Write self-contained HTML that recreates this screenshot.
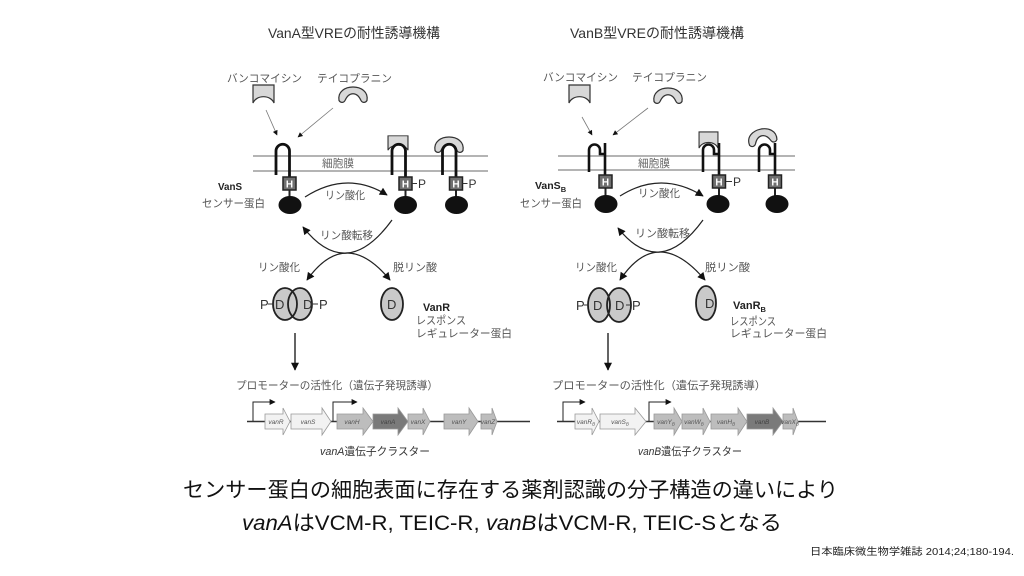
<!DOCTYPE html>
<html><head><meta charset="utf-8"><style>
html,body{margin:0;padding:0;background:#fff;}
svg{display:block;}
text{font-family:"Liberation Sans","Noto Sans CJK JP",sans-serif;}
.lb{fill:#555;font-size:11px;}
.bd{fill:#222;font-weight:bold;}
.g{font-family:"Liberation Serif","Noto Serif CJK SC",serif;font-style:italic;font-size:6.5px;fill:#555;}
</style></head><body>
<svg width="1024" height="576" viewBox="0 0 1024 576" xmlns="http://www.w3.org/2000/svg">
<defs>
<marker id="ah" viewBox="0 0 10 10" refX="9" refY="5" markerWidth="9" markerHeight="8" markerUnits="userSpaceOnUse" orient="auto-start-reverse"><path d="M0,0 L10,5 L0,10 Z" fill="#111"/></marker>
<marker id="as" viewBox="0 0 10 10" refX="9" refY="5" markerWidth="6" markerHeight="5" markerUnits="userSpaceOnUse" orient="auto"><path d="M0,0 L10,5 L0,10 Z" fill="#111"/></marker>
<marker id="ap" viewBox="0 0 10 10" refX="9" refY="5" markerWidth="8" markerHeight="6" markerUnits="userSpaceOnUse" orient="auto"><path d="M0,0 L10,5 L0,10 Z" fill="#111"/></marker>
<path id="vanc" d="M-10.5,-9 H10.5 V9 A11,9 0 0 0 -10.5,9 Z" fill="#d8d8d8" stroke="#333" stroke-width="1.2"/>
<path id="teic" d="M-14,6 C-17,-12 17,-12 14,6 C12,9 9,8 8,6 C4,-3 -4,-3 -8,6 C-9,8 -12,9 -14,6 Z" fill="#d8d8d8" stroke="#333" stroke-width="1.2"/>
</defs>
<rect width="1024" height="576" fill="#fff"/>

<!-- ================= LEFT (VanA) ================= -->
<text x="268" y="38" font-size="14" fill="#333" textLength="172" lengthAdjust="spacingAndGlyphs">VanA型VREの耐性誘導機構</text>
<text class="lb" x="227" y="82" textLength="75" lengthAdjust="spacingAndGlyphs">バンコマイシン</text>
<text class="lb" x="317" y="82" textLength="75" lengthAdjust="spacingAndGlyphs">テイコプラニン</text>
<use href="#vanc" transform="translate(263.5,94)"/>
<use href="#teic" transform="translate(353,94.5)"/>
<path d="M266,110 L277,135" stroke="#777" stroke-width="0.8" marker-end="url(#as)"/>
<path d="M333,108 L298,137" stroke="#777" stroke-width="0.8" marker-end="url(#as)"/>

<line x1="253" y1="156" x2="488" y2="156" stroke="#888" stroke-width="1.2"/>
<line x1="253" y1="171" x2="488" y2="171" stroke="#888" stroke-width="1.2"/>
<text x="322" y="167" font-size="11" fill="#666" textLength="32" lengthAdjust="spacingAndGlyphs">細胞膜</text>

<use href="#vanc" transform="translate(398,143) scale(0.95,0.8)"/>
<use href="#teic" transform="translate(449,144.5)"/>
<g fill="none" stroke="#111" stroke-width="2.8">
<path d="M276,175 V151 A6.75,6.75 0 0 1 289.5,151 V177"/>
<path d="M392,175 V151 A6.75,6.75 0 0 1 405.5,151 V177"/>
<path d="M442.5,175 V151 A6.75,6.75 0 0 1 456,151 V177"/>
</g>
<g stroke="#222" stroke-width="2">
<line x1="289.5" y1="190" x2="289.5" y2="198"/>
<line x1="405.5" y1="190" x2="405.5" y2="198"/>
<line x1="456" y1="190" x2="456" y2="198"/>
</g>
<g fill="#707070" stroke="#222" stroke-width="1.5">
<rect x="283" y="177" width="13" height="13"/>
<rect x="399" y="177" width="13" height="13"/>
<rect x="449.5" y="177" width="13" height="13"/>
</g>
<g fill="#fff" font-size="10" font-weight="bold" text-anchor="middle">
<text x="289.5" y="187.5">H</text>
<text x="405.5" y="187.5">H</text>
<text x="456" y="187.5">H</text>
</g>
<g fill="#111">
<ellipse cx="290" cy="205" rx="11.5" ry="9"/>
<ellipse cx="405.5" cy="205" rx="11.5" ry="9"/>
<ellipse cx="456.5" cy="205" rx="11.5" ry="9"/>
</g>
<g stroke="#333" stroke-width="1"><line x1="412" y1="183.5" x2="417" y2="183.5"/><line x1="462.5" y1="183.5" x2="467.5" y2="183.5"/></g>
<g fill="#333" font-size="12"><text x="418" y="188">P</text><text x="468.5" y="188">P</text></g>

<text class="bd" x="218" y="190" font-size="10.5" textLength="24" lengthAdjust="spacingAndGlyphs">VanS</text>
<text class="lb" x="202" y="207" textLength="63" lengthAdjust="spacingAndGlyphs">センサー蛋白</text>

<path d="M305,197 Q347,170 387,195" fill="none" stroke="#222" stroke-width="1.2" marker-end="url(#ah)"/>
<text class="lb" x="325" y="199" textLength="40" lengthAdjust="spacingAndGlyphs">リン酸化</text>

<path d="M392,220 Q346.5,282.5 303,227" fill="none" stroke="#222" stroke-width="1.2" marker-end="url(#ah)"/>
<path d="M307,280 Q345.5,226 390,280" fill="none" stroke="#222" stroke-width="1.2" marker-start="url(#ah)" marker-end="url(#ah)"/>
<text class="lb" x="320" y="239" textLength="53" lengthAdjust="spacingAndGlyphs">リン酸転移</text>
<text class="lb" x="258" y="271" textLength="42" lengthAdjust="spacingAndGlyphs">リン酸化</text>
<text class="lb" x="393" y="271" textLength="44" lengthAdjust="spacingAndGlyphs">脱リン酸</text>

<g fill="#c9c9c9"><ellipse cx="285" cy="304" rx="12" ry="16"/><ellipse cx="300" cy="304" rx="12" ry="16"/><ellipse cx="392" cy="304" rx="11" ry="16"/></g>
<g fill="none" stroke="#222" stroke-width="1.8"><ellipse cx="285" cy="304" rx="12" ry="16"/><ellipse cx="300" cy="304" rx="12" ry="16"/><ellipse cx="392" cy="304" rx="11" ry="16"/></g>
<g stroke="#333" stroke-width="1"><line x1="268" y1="304" x2="273" y2="304"/><line x1="313" y1="304" x2="318" y2="304"/></g>
<g fill="#333" font-size="13"><text x="260" y="309">P</text><text x="275" y="309">D</text><text x="303" y="309">D</text><text x="319" y="309">P</text><text x="387" y="309">D</text></g>
<text class="bd" x="423" y="311" font-size="11" textLength="27" lengthAdjust="spacingAndGlyphs">VanR</text>
<text class="lb" x="416" y="324" textLength="50" lengthAdjust="spacingAndGlyphs">レスポンス</text>
<text class="lb" x="416" y="337" textLength="96" lengthAdjust="spacingAndGlyphs">レギュレーター蛋白</text>

<path d="M295,333 V370" stroke="#222" stroke-width="1.4" marker-end="url(#ah)"/>
<text class="lb" x="236" y="389" textLength="202" lengthAdjust="spacingAndGlyphs">プロモーターの活性化（遺伝子発現誘導）</text>

<line x1="247" y1="421.5" x2="530" y2="421.5" stroke="#333" stroke-width="1.5"/>
<g fill="none" stroke="#222" stroke-width="1"><path d="M253,421 V402 H275" marker-end="url(#ap)"/><path d="M333,421 V402 H357" marker-end="url(#ap)"/></g>
<g stroke="#999" stroke-width="0.8">
<path d="M265,414 H283 V408 L290,421.5 L283,435 V429 H265 Z" fill="#f2f2f2"/>
<path d="M291,414 H322 V408 L331,421.5 L322,435 V429 H291 Z" fill="#f2f2f2"/>
<path d="M337,414 H363 V408 L373,421.5 L363,435 V429 H337 Z" fill="#bdbdbd"/>
<path d="M373,414 H398 V408 L408,421.5 L398,435 V429 H373 Z" fill="#7a7a7a"/>
<path d="M408,414 H423 V408 L430,421.5 L423,435 V429 H408 Z" fill="#bdbdbd"/>
<path d="M444,414 H469 V408 L478,421.5 L469,435 V429 H444 Z" fill="#bdbdbd"/>
<path d="M481,414 H492 V408 L497,421.5 L492,435 V429 H481 Z" fill="#bdbdbd"/>
</g>
<g class="g" text-anchor="middle">
<text x="276" y="424">vanR</text><text x="308" y="424">vanS</text><text x="352" y="424">vanH</text><text x="388" y="424" fill="#444">vanA</text><text x="418" y="424">vanX</text><text x="459" y="424">vanY</text><text x="488" y="424">vanZ</text>
</g>
<text x="320" y="455" font-size="11" fill="#333" textLength="110" lengthAdjust="spacingAndGlyphs"><tspan font-style="italic">vanA</tspan>遺伝子クラスター</text>

<!-- ================= RIGHT (VanB) ================= -->
<text x="570" y="38" font-size="14" fill="#333" textLength="174" lengthAdjust="spacingAndGlyphs">VanB型VREの耐性誘導機構</text>
<text class="lb" x="543" y="81" textLength="75" lengthAdjust="spacingAndGlyphs">バンコマイシン</text>
<text class="lb" x="632" y="81" textLength="75" lengthAdjust="spacingAndGlyphs">テイコプラニン</text>
<use href="#vanc" transform="translate(579.5,94)"/>
<use href="#teic" transform="translate(668,95.5)"/>
<path d="M582,117 L592,135" stroke="#777" stroke-width="0.8" marker-end="url(#as)"/>
<path d="M648,108 L613,135" stroke="#777" stroke-width="0.8" marker-end="url(#as)"/>

<line x1="558" y1="156" x2="795" y2="156" stroke="#888" stroke-width="1.2"/>
<line x1="558" y1="170" x2="795" y2="170" stroke="#888" stroke-width="1.2"/>
<text x="638" y="167" font-size="11" fill="#666" textLength="32" lengthAdjust="spacingAndGlyphs">細胞膜</text>

<use href="#vanc" transform="translate(708.5,140) scale(0.9,0.9)"/>
<use href="#teic" transform="translate(762,136.5) rotate(-12)"/>
<g fill="none" stroke="#111" stroke-width="2.6">
<path d="M589,172 V150 A5.5,5.5 0 0 1 600,150 V154 H605"/><path d="M605,143 V175"/>
<path d="M703,172 V150 A5.5,5.5 0 0 1 714,150 V154 H719"/><path d="M719,143 V175"/>
<path d="M759,172 V150 A5.5,5.5 0 0 1 770,150 V154 H775"/><path d="M775,143 V175"/>
</g>
<g stroke="#222" stroke-width="2">
<line x1="605.5" y1="188" x2="605.5" y2="197"/>
<line x1="719" y1="188" x2="719" y2="197"/>
<line x1="775" y1="188" x2="775" y2="197"/>
</g>
<g fill="#707070" stroke="#222" stroke-width="1.5">
<rect x="599" y="175" width="13" height="13"/>
<rect x="712.5" y="175" width="13" height="13"/>
<rect x="768.5" y="175" width="13" height="13"/>
</g>
<g fill="#fff" font-size="10" font-weight="bold" text-anchor="middle">
<text x="605.5" y="185.5">H</text>
<text x="719" y="185.5">H</text>
<text x="775" y="185.5">H</text>
</g>
<g fill="#111">
<ellipse cx="606" cy="204" rx="11.5" ry="9"/>
<ellipse cx="718" cy="204" rx="11.5" ry="9"/>
<ellipse cx="777" cy="204" rx="11.5" ry="9"/>
</g>
<line x1="726" y1="181.5" x2="732" y2="181.5" stroke="#333" stroke-width="1"/>
<text x="733" y="186" font-size="12" fill="#333">P</text>

<text class="bd" x="535" y="189" font-size="10.5">VanS<tspan font-size="7.5" dy="3">B</tspan></text>
<text class="lb" x="520" y="207" textLength="62" lengthAdjust="spacingAndGlyphs">センサー蛋白</text>

<path d="M620,196 Q661,170 703,196" fill="none" stroke="#222" stroke-width="1.2" marker-end="url(#ah)"/>
<text class="lb" x="638" y="197" textLength="42" lengthAdjust="spacingAndGlyphs">リン酸化</text>

<path d="M703,220 Q659.5,280 618,228" fill="none" stroke="#222" stroke-width="1.2" marker-end="url(#ah)"/>
<path d="M620,280 Q657.5,224 705,280" fill="none" stroke="#222" stroke-width="1.2" marker-start="url(#ah)" marker-end="url(#ah)"/>
<text class="lb" x="635" y="237" textLength="55" lengthAdjust="spacingAndGlyphs">リン酸転移</text>
<text class="lb" x="575" y="271" textLength="42" lengthAdjust="spacingAndGlyphs">リン酸化</text>
<text class="lb" x="705" y="271" textLength="45" lengthAdjust="spacingAndGlyphs">脱リン酸</text>

<g fill="#c9c9c9"><ellipse cx="599" cy="305" rx="11" ry="17"/><ellipse cx="619" cy="305" rx="12" ry="17"/><ellipse cx="706" cy="303" rx="10" ry="17"/></g>
<g fill="none" stroke="#222" stroke-width="1.8"><ellipse cx="599" cy="305" rx="11" ry="17"/><ellipse cx="619" cy="305" rx="12" ry="17"/><ellipse cx="706" cy="303" rx="10" ry="17"/></g>
<g stroke="#333" stroke-width="1"><line x1="584" y1="305" x2="589" y2="305"/><line x1="626" y1="305" x2="631" y2="305"/></g>
<g fill="#333" font-size="13"><text x="576" y="310">P</text><text x="593" y="310">D</text><text x="615" y="310">D</text><text x="632" y="310">P</text><text x="705" y="308">D</text></g>
<text class="bd" x="733" y="309" font-size="11">VanR<tspan font-size="7.5" dy="3">B</tspan></text>
<text class="lb" x="730" y="325" textLength="46" lengthAdjust="spacingAndGlyphs">レスポンス</text>
<text class="lb" x="730" y="337" textLength="97" lengthAdjust="spacingAndGlyphs">レギュレーター蛋白</text>

<path d="M608,333 V370" stroke="#222" stroke-width="1.4" marker-end="url(#ah)"/>
<text class="lb" x="552" y="389" textLength="214" lengthAdjust="spacingAndGlyphs">プロモーターの活性化（遺伝子発現誘導）</text>

<line x1="557" y1="421.5" x2="826" y2="421.5" stroke="#333" stroke-width="1.5"/>
<g fill="none" stroke="#222" stroke-width="1"><path d="M563,421 V402 H585" marker-end="url(#ap)"/><path d="M649,421 V402 H671" marker-end="url(#ap)"/></g>
<g stroke="#999" stroke-width="0.8">
<path d="M575,414 H592 V408 L599,421.5 L592,435 V429 H575 Z" fill="#f2f2f2"/>
<path d="M600,414 H635 V408 L646,421.5 L635,435 V429 H600 Z" fill="#f2f2f2"/>
<path d="M654,414 H674 V408 L682,421.5 L674,435 V429 H654 Z" fill="#bdbdbd"/>
<path d="M682,414 H703 V408 L710,421.5 L703,435 V429 H682 Z" fill="#bdbdbd"/>
<path d="M711,414 H738 V408 L747,421.5 L738,435 V429 H711 Z" fill="#bdbdbd"/>
<path d="M747,414 H773 V408 L783,421.5 L773,435 V429 H747 Z" fill="#7a7a7a"/>
<path d="M783,414 H793 V408 L798,421.5 L793,435 V429 H783 Z" fill="#bdbdbd"/>
</g>
<g class="g" text-anchor="middle">
<text x="586" y="424">vanR<tspan font-size="4.5" dy="1.5">B</tspan></text>
<text x="620" y="424">vanS<tspan font-size="4.5" dy="1.5">B</tspan></text>
<text x="666" y="424">vanY<tspan font-size="4.5" dy="1.5">B</tspan></text>
<text x="694" y="424">vanW<tspan font-size="4.5" dy="1.5">B</tspan></text>
<text x="726" y="424">vanH<tspan font-size="4.5" dy="1.5">B</tspan></text>
<text x="762" y="424" fill="#444">vanB</text>
<text x="790" y="424">vanX<tspan font-size="4.5" dy="1.5">B</tspan></text>
</g>
<text x="638" y="455" font-size="11" fill="#333" textLength="104" lengthAdjust="spacingAndGlyphs"><tspan font-style="italic">vanB</tspan>遺伝子クラスター</text>

<!-- ================= BOTTOM TEXT ================= -->
<text x="183" y="497" font-size="21" fill="#111" textLength="655" lengthAdjust="spacingAndGlyphs">センサー蛋白の細胞表面に存在する薬剤認識の分子構造の違いにより</text>
<text x="242" y="530" font-size="21" fill="#111" textLength="540" lengthAdjust="spacingAndGlyphs"><tspan font-style="italic">vanA</tspan>はVCM-R, TEIC-R, <tspan font-style="italic">vanB</tspan>はVCM-R, TEIC-Sとなる</text>
<text x="810" y="555" font-size="10" fill="#222" textLength="204" lengthAdjust="spacingAndGlyphs">日本臨床微生物学雑誌 2014;24;180-194.</text>
</svg>
</body></html>
